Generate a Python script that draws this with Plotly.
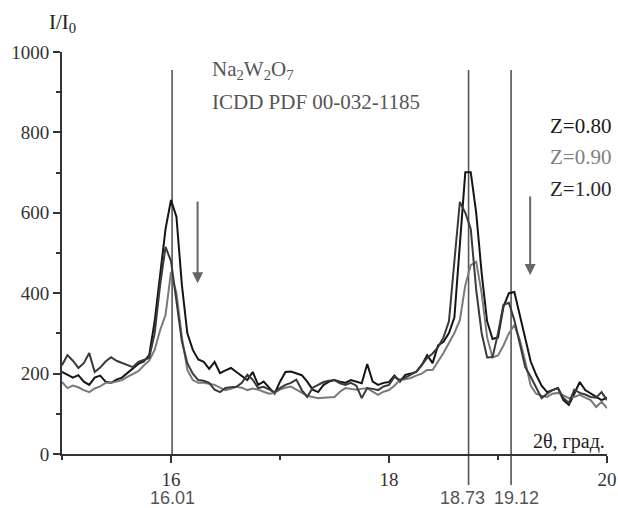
import numpy as np
import plotly.graph_objects as go

# 2-theta grid (degrees)
two_theta = np.round(np.arange(15.0, 20.0001, 0.05), 2)

# Intensities I/I0
z080 = [204, 197, 190, 196, 180, 172, 190, 195, 180, 177,
        185, 190, 201, 212, 224, 230, 246, 330, 450, 560,
        632, 590, 420, 300, 259, 235, 229, 212, 229, 201,
        208, 214, 204, 194, 184, 204, 172, 180, 165, 150,
        180, 204, 205, 200, 196, 180, 160, 154, 172, 180,
        184, 180, 177, 184, 180, 176, 224, 180, 172, 177,
        179, 195, 180, 197, 200, 204, 221, 246, 226, 270,
        279, 301, 340, 520, 701, 701, 600, 450, 330, 286,
        290, 366, 400, 403, 345, 280, 230, 197, 170, 154,
        160, 164, 134, 122, 150, 179, 159, 150, 142, 134,
        140]

z090 = [179, 164, 170, 166, 159, 154, 163, 168, 177, 177,
        180, 184, 192, 200, 206, 220, 232, 259, 308, 346,
        453, 400, 290, 209, 184, 177, 177, 175, 172, 165,
        159, 162, 167, 165, 159, 163, 160, 155, 150, 152,
        160, 165, 168, 160, 152, 145, 142, 139, 140, 141,
        142, 155, 164, 162, 160, 162, 164, 155, 147, 155,
        159, 170, 184, 186, 189, 195, 200, 209, 209, 230,
        251, 276, 301, 333, 420, 470, 478, 400, 290, 240,
        245, 270, 300, 321, 284, 230, 170, 150, 145, 142,
        150, 152, 145, 139, 142, 147, 140, 134, 117, 130,
        114]

z100 = [221, 246, 232, 214, 226, 251, 204, 215, 230, 241,
        232, 226, 220, 216, 229, 234, 239, 300, 420, 515,
        480, 380, 280, 226, 200, 184, 182, 177, 160, 154,
        164, 166, 167, 177, 197, 185, 164, 167, 160, 154,
        164, 172, 177, 185, 159, 142, 165, 172, 179, 182,
        184, 176, 172, 177, 170, 139, 164, 162, 159, 168,
        172, 192, 184, 190, 197, 205, 221, 239, 250, 266,
        290, 330, 480, 627, 600, 560, 408, 301, 240, 241,
        300, 371, 376, 333, 275, 216, 192, 167, 139, 150,
        159, 164, 139, 127, 160, 152, 148, 142, 140, 154,
        134]

series_names = ["Z=0.80", "Z=0.90", "Z=1.00"]
series_colors = ["#151515", "#7a7a7a", "#3a3a3a"]
ref_peaks = [16.01, 18.73, 19.12]
ref_labels = ["16.01", "18.73", "19.12"]
x_ticks = [16, 18, 20]
y_ticks = [0, 200, 400, 600, 800, 1000]

serif = "Liberation Serif"
sans = "Liberation Sans"

fig = go.Figure()
for vals, name, col in zip([z080, z090, z100], series_names, series_colors):
    fig.add_trace(go.Scatter(x=two_theta, y=vals, mode="lines", name=name,
                             line=dict(color=col, width=2), showlegend=False))

# reference lines
for i, p in enumerate(ref_peaks):
    y0 = 0 if i == 0 else -0.077
    fig.add_shape(type="line", xref="x", yref="paper", x0=p, x1=p, y0=y0, y1=0.955,
                  line=dict(color="#555555", width=1.6), layer="below")

# reference peak labels
shifts = [0, -6, 5]
for p, lab, s in zip(ref_peaks, ref_labels, shifts):
    fig.add_annotation(x=p, y=-0.11, xref="x", yref="paper", text=lab, showarrow=False,
                       xshift=s, yanchor="middle", xanchor="center",
                       font=dict(family=sans, size=18, color="#555555"))

# legend-like labels
leg_y = [0.815, 0.74, 0.66]
leg_cols = ["#1a1a1a", "#808080", "#2a2a2a"]
for name, yy, col in zip(series_names, leg_y, leg_cols):
    fig.add_annotation(x=1.011, y=yy, xref="paper", yref="paper", text=name,
                       showarrow=False, xanchor="right", yanchor="middle",
                       font=dict(family=serif, size=21, color=col))

# phase info
fig.add_annotation(x=0.272, y=0.955, xref="paper", yref="paper",
                   text="Na<sub>2</sub>W<sub>2</sub>O<sub>7</sub>", showarrow=False,
                   xanchor="left", yanchor="middle",
                   font=dict(family=serif, size=21, color="#555555"))
fig.add_annotation(x=0.272, y=0.875, xref="paper", yref="paper",
                   text="ICDD PDF 00-032-1185", showarrow=False,
                   xanchor="left", yanchor="middle",
                   font=dict(family=serif, size=21, color="#555555"))

# axis titles
fig.add_annotation(x=-0.028, y=1.072, xref="paper", yref="paper",
                   text="I/I<sub>0</sub>", showarrow=False, xanchor="left", yanchor="middle",
                   font=dict(family=serif, size=21, color="#222222"))
fig.add_annotation(x=1.0, y=0.03, xref="paper", yref="paper",
                   text="2θ, град.", showarrow=False, xanchor="right", yanchor="middle",
                   font=dict(family=serif, size=20, color="#222222"))

# arrows
for ax_, y_top, y_tip in [(16.244, 632, 425), (19.295, 644, 445)]:
    fig.add_annotation(x=ax_, y=y_tip, ax=ax_, ay=y_top, xref="x", yref="y",
                       axref="x", ayref="y", text="", showarrow=True,
                       arrowhead=2, arrowsize=1.1, arrowwidth=2, arrowcolor="#666666")

fig.update_layout(
    width=618, height=508,
    margin=dict(l=62, r=11, t=52, b=54, autoexpand=False),
    plot_bgcolor="white", paper_bgcolor="white",
    font=dict(family=serif, size=19, color="#333333"),
)
fig.update_xaxes(range=[15, 20], tickvals=x_ticks, ticktext=[str(t) for t in x_ticks],
                 automargin=False,
                 showline=True, linecolor="#333333", linewidth=2,
                 ticks="outside", ticklen=7, tickwidth=2, tickcolor="#333333",
                 minor=dict(dtick=1, tick0=15, ticks="outside", ticklen=4,
                            tickwidth=1.5, tickcolor="#333333"),
                 showgrid=False, zeroline=False,
                 tickfont=dict(family=serif, size=19, color="#333333"))
fig.update_yaxes(range=[0, 1000], tickvals=y_ticks, automargin=False,
                 showline=True, linecolor="#333333", linewidth=2,
                 ticks="outside", ticklen=7, tickwidth=2, tickcolor="#333333",
                 minor=dict(dtick=100, tick0=0, ticks="outside", ticklen=4,
                            tickwidth=1.5, tickcolor="#333333"),
                 showgrid=False, zeroline=False,
                 tickfont=dict(family=serif, size=19, color="#333333"))

# remove the page's default body margin so the figure fills the window exactly
fig.write_html("out.html", config={"displayModeBar": False},
               post_script="document.body.style.margin='0';document.body.style.overflow='hidden';")
